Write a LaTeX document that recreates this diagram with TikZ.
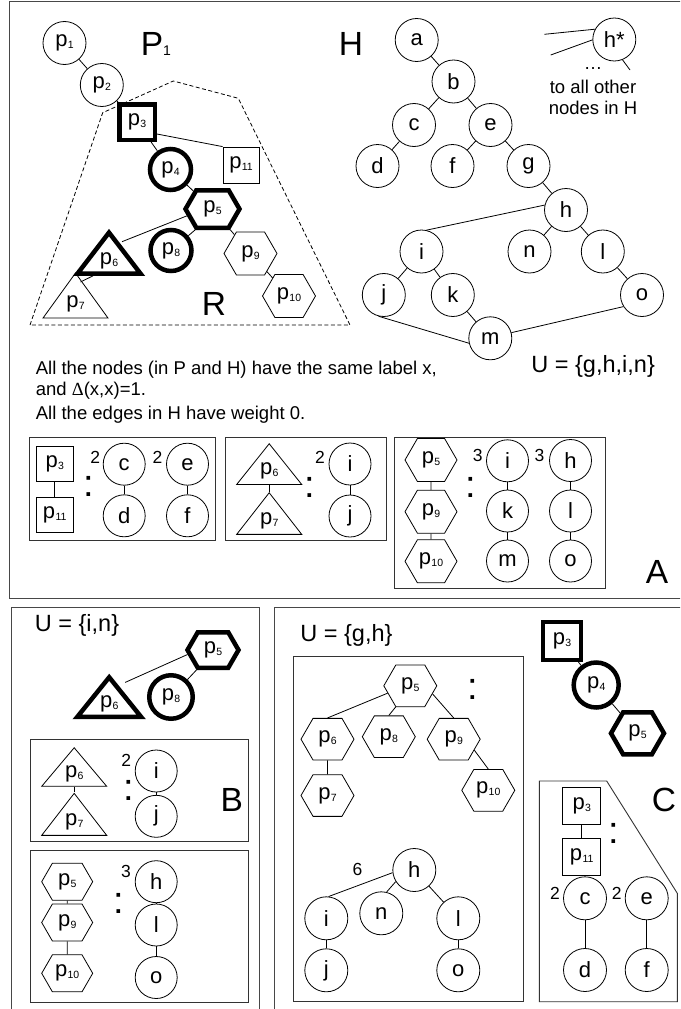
\documentclass[tikz,border=0pt]{standalone}
\usepackage{fontspec}
\setmainfont{Liberation Sans}
\newfontfamily\greekserif{Liberation Serif}
\usetikzlibrary{shapes.geometric,shapes.symbols}

\newcommand\fs[1]{\fontsize{#1}{#1}\selectfont}
% node label p_k
\newcommand\pn[1]{{\fs{22}p\kern0.3pt\raisebox{-2pt}{\fs{10.5}#1}}}

\begin{document}
\begin{tikzpicture}[x=1pt,y=-1pt,line width=0.8pt,
  every node/.style={inner sep=0pt},
  cn/.style={circle, draw, minimum size=43pt, font=\fs{22}},
  cnk/.style={circle, draw, line width=4.5pt, minimum size=41pt},
  sq/.style={rectangle, draw, minimum width=37pt, minimum height=36pt},
  sqk/.style={rectangle, draw, line width=4.5pt, minimum size=35.5pt},
  hx/.style={signal, signal to=east and west, signal pointer angle=120, draw,
             minimum width=53pt, minimum height=43pt},
  hxk/.style={hx, line width=4.5pt, minimum width=54pt, minimum height=37.5pt},
  tri/.style={isosceles triangle, isosceles triangle stretches, shape border rotate=90,
              draw, minimum width=65pt, minimum height=41pt, anchor=apex},
  trik/.style={tri, line width=4.5pt, minimum width=63pt},
  colon/.style={font=\fs{38}},
  num/.style={font=\fs{17.5}},
  big/.style={font=\fs{33.5}, anchor=base},
  txt/.style={font=\fs{18.5}, anchor=base west},
  uset/.style={font=\fs{23.5}, anchor=base west},
  frame/.style={draw=black!72, line width=1pt},
  box/.style={draw=black!80, line width=0.9pt},
  region/.style={dash pattern=on 4pt off 2.5pt, line width=0.8pt}
]
\clip (0,0) rectangle (680,1009);

% ---------- frames of the three parts ----------
\draw[frame] (9.3,1.7) rectangle (700,598.3);
\draw[frame] (11,607.3) rectangle (259.3,1030);
\draw[frame] (274,607.3) rectangle (700,1030);

% ---------- part A : pattern P1 ----------
\draw[region] (30,325) -- (102.7,112.7) -- (173.3,81) -- (238.3,98.3) -- (350,325) -- cycle;

\node[cn] (p1) at (64.5,43) {\pn{1}};
\node[cn] (p2) at (101.8,85) {\pn{2}};
\node[sqk] (p3) at (137,122) {\pn{3}};
\node[cnk] (p4) at (170.5,169.5) {\pn{4}};
\node[sq, minimum width=36pt] (p11) at (241,165) {\pn{11}};
\node[hxk] (p5) at (212.5,209) {\pn{5}};
\node[trik] (p6) at (109,226.7) {\pn{6}};
\node[cnk] (p8) at (171,250.5) {\pn{8}};
\node[hx] (p9) at (250.5,253.5) {\pn{9}};
\node[hx] (p10) at (289,296) {\pn{10}};
\node[tri, minimum height=45pt] (p7) at (75.5,272) {\pn{7}};

\draw (p1) -- (p2);
\draw (p2) -- (p3);
\draw (p3) -- (p4);
\draw (p3.-31) -- (p11.north west);
\draw (p4) -- (p5);
\draw (p5.195) -- ([xshift=13pt,yshift=-15pt]p6.apex);
\draw (p5.south west) -- (p8);
\draw (p5) -- (p9);
\draw (p9) -- (p10);
\draw ([xshift=-16pt]p6.lower side) -- ([xshift=5pt,yshift=-10pt]p7.apex);

\node[big] (lP) at (140.5,55.5) [anchor=base west] {P\fs{14}1};
\node[big] (lR) at (214,315) {R};

% ---------- part A : graph H ----------
\node[big] (lH) at (351,55) {H};
\node[cn] (a) at (416.7,40) {a};
\node[cn] (b) at (453.5,81.5) {b};
\node[cn] (c) at (414,125) {c};
\node[cn] (e) at (490.5,125) {e};
\node[cn] (d) at (377.5,166) {d};
\node[cn] (f) at (452.5,166) {f};
\node[cn] (g) at (528.5,166) {g};
\node[cn] (h) at (566,210) {h};
\node[cn] (i) at (421.5,251.5) {i};
\node[cn] (n) at (529.5,251.5) {n};
\node[cn] (l) at (602.8,251.5) {l};
\node[cn] (j) at (383.8,295) {j};
\node[cn] (k) at (452.8,295) {k};
\node[cn] (o) at (642,295) {o};
\node[cn] (m) at (490.3,338.3) {m};

\draw (a) -- (b);
\draw (b) -- (c);
\draw (b) -- (e);
\draw (c) -- (d);
\draw (e) -- (f);
\draw (e) -- (g);
\draw (g) -- (h);
\draw (h.167) -- (i.77);
\draw (h) -- (n);
\draw (h) -- (l);
\draw (i) -- (j);
\draw (i) -- (k);
\draw (k) -- (m);
\draw (l) -- (o);
\draw (j.256) -- (m.193);
\draw (m.15) -- (o.212);

% universal node h*
\node[cn] (hstar) at (614.3,39.5) {h*};
\coordinate (hs1) at (544.3,34.3);
\coordinate (hs2) at (550.7,55);
\coordinate (hs3) at (630,70);
\draw (hstar.152) -- (hs1);
\draw (hstar.181) -- (hs2);
\draw (hstar.292) -- (hs3);
\node[font=\fs{18.5}, anchor=base] (dots) at (593,69) {\dots};
\node[font=\fs{18.5}, anchor=base] (to1) at (593,93.3) {to all other};
\node[font=\fs{18.5}, anchor=base] (to2) at (593,114) {nodes in H};

% ---------- part A : remarks ----------
\node[txt] (t1) at (35.5,374) {All the nodes (in P and H) have the same label x,};
\node[txt] (t2) at (35.5,395.7) {and {\greekserif Δ}(x,x)=1.};
\node[txt] (t3) at (35.5,419) {All the edges in H have weight 0.};
\node[uset] (uA) at (531,372.7) {U = \{g,h,i,n\}};

% ---------- part A : matchings ----------
\draw[box] (29.3,437.3) rectangle (215.7,540);
\node[sq, minimum height=35pt] (a1p3) at (54.7,463.5) {\pn{3}};
\node[sq, minimum height=35pt] (a1p11) at (54.7,515) {\pn{11}};
\draw (a1p3) -- (a1p11);
\node[colon] (a1col) at (88.3,486.7) {:};
\node[num] (a1n1) at (95.3,457.5) {2};
\node[cn, minimum size=42pt] (a1c) at (124.2,464.2) {c};
\node[cn, minimum size=42pt] (a1d) at (124.2,515.8) {d};
\node[num] (a1n2) at (157.5,457.5) {2};
\node[cn, minimum size=42pt] (a1e) at (187.5,464.2) {e};
\node[cn, minimum size=42pt] (a1f) at (187.5,515.8) {f};
\draw (a1c) -- (a1d);
\draw (a1e) -- (a1f);

\draw[box] (225,437.3) rectangle (386,540);
\node[tri, minimum height=40.7pt] (a2p6) at (269.2,442.7) {\pn{6}};
\node[tri, minimum height=41.6pt] (a2p7) at (269.2,491.7) {\pn{7}};
\draw (a2p6.lower side) -- (a2p7.apex);
\node[colon] (a2col) at (309.3,487.3) {:};
\node[num] (a2n) at (320,457.5) {2};
\node[cn, minimum size=42pt] (a2i) at (350,464) {i};
\node[cn, minimum size=42pt] (a2j) at (350,516) {j};
\draw (a2i) -- (a2j);

\draw[box] (394.3,437.7) rectangle (605,588.3);
\node[hx, minimum width=52pt] (a3p5) at (431,460) {\pn{5}};
\node[hx, minimum width=52pt] (a3p9) at (431,511.7) {\pn{9}};
\node[hx, minimum width=52pt] (a3p10) at (431,561.3) {\pn{10}};
\draw (a3p5) -- (a3p9);
\draw (a3p9) -- (a3p10);
\node[colon] (a3col) at (471,487.5) {:};
\node[num] (a3n1) at (477.7,455) {3};
\node[cn, minimum size=42pt] (a3i) at (507.5,460.8) {i};
\node[cn, minimum size=42pt] (a3k) at (507.5,511) {k};
\node[cn, minimum size=42pt] (a3m) at (507.5,561) {m};
\node[num] (a3n2) at (539.5,455) {3};
\node[cn, minimum size=42pt] (a3h) at (570.5,460.5) {h};
\node[cn, minimum size=42pt] (a3l) at (570.5,511) {l};
\node[cn, minimum size=42pt] (a3o) at (570.5,561) {o};
\draw (a3i) -- (a3k);
\draw (a3k) -- (a3m);
\draw (a3h) -- (a3l);
\draw (a3l) -- (a3o);

\node[big] (lA) at (657,583.3) {A};

% ---------- part B ----------
\node[uset] (uB) at (34.5,631.7) {U = \{i,n\}};
\node[hxk, minimum width=51pt, minimum height=35.5pt] (bp5) at (213,650) {\pn{5}};
\node[trik, minimum width=64pt, minimum height=39.7pt] (bp6) at (109.2,671.4) {\pn{6}};
\node[cnk, minimum size=43.5pt] (bp8) at (171,697) {\pn{8}};
\draw (bp5.190) -- ([xshift=16pt,yshift=-11pt]bp6.apex);
\draw (bp5.south west) -- (bp8);

\draw[box] (30,739) rectangle (248.3,841);
\node[tri, minimum height=38.3pt] (b1p6) at (74.2,746.7) {\pn{6}};
\node[tri, minimum height=42pt] (b1p7) at (74.2,792.3) {\pn{7}};
\draw (b1p6.lower side) -- (b1p7.apex);
\node[colon] (b1col) at (128.3,790.3) {:};
\node[num] (b1n) at (126.2,760) {2};
\node[cn, minimum size=42pt] (b1i) at (156.2,771) {i};
\node[cn, minimum size=42pt] (b1j) at (156.2,816.3) {j};
\draw (b1i) -- (b1j);
\node[big] (lB) at (231.7,811) {B};

\draw[box] (30,850) rectangle (248.3,1002);
\node[hx, minimum width=51pt, minimum height=37pt] (b2p5) at (67.2,881.7) {\pn{5}};
\node[hx, minimum width=51pt, minimum height=37pt] (b2p9) at (67.2,922.5) {\pn{9}};
\node[hx, minimum width=51pt, minimum height=37pt] (b2p10) at (67.2,973.3) {\pn{10}};
\draw (b2p5) -- (b2p9);
\draw (b2p9) -- (b2p10);
\node[colon] (b2col) at (118.3,903.3) {:};
\node[num] (b2n) at (126,871.7) {3};
\node[cn, minimum size=42pt] (b2h) at (156.2,881.7) {h};
\node[cn, minimum size=42pt] (b2l) at (156.2,925) {l};
\node[cn, minimum size=42pt] (b2o) at (156.2,977.5) {o};
\draw (b2h) -- (b2l);
\draw (b2l) -- (b2o);

% ---------- part C ----------
\node[uset] (uC) at (300,641.7) {U = \{g,h\}};
\draw[box] (293.3,656) rectangle (523.3,1001.7);
\node[hx, minimum height=41.7pt] (c1p5) at (410.3,685.8) {\pn{5}};
\node[hx, minimum height=41.7pt] (c1p6) at (327.5,739.2) {\pn{6}};
\node[hx, minimum height=41.7pt] (c1p8) at (388.8,736.7) {\pn{8}};
\node[hx, minimum height=41.7pt] (c1p9) at (453.7,739.2) {\pn{9}};
\node[hx, minimum height=41.7pt] (c1p7) at (327.5,795.5) {\pn{7}};
\node[hx, minimum height=41.7pt] (c1p10) at (488.3,790.3) {\pn{10}};
\draw (c1p5.198) -- (c1p6.north);
\draw (c1p5.south west) -- (c1p8.north);
\draw (c1p5.-20) -- (c1p9.north);
\draw (c1p6) -- (c1p7);
\draw (c1p9.-28) -- (c1p10.north);
\node[colon] (c1col) at (472.3,689.5) {:};

\node[num] (c1n) at (357.5,869) {6};
\node[cn] (c1h) at (414.3,870) {h};
\node[cn] (c1i) at (326.3,918.3) {i};
\node[cn] (c1n2) at (381.3,913.3) {n};
\node[cn] (c1l) at (458.3,918.3) {l};
\node[cn] (c1j) at (326.3,970.3) {j};
\node[cn] (c1o) at (458.3,970.3) {o};
\draw (c1h.187) -- (c1i.84);
\draw (c1h.212) -- (c1n2.76);
\draw (c1h) -- (c1l);
\draw (c1i) -- (c1j);
\draw (c1l) -- (c1o);

\node[sqk, minimum size=38pt] (cp3) at (562,640.8) {\pn{3}};
\node[cnk, minimum size=45pt] (cp4) at (596.2,685) {\pn{4}};
\node[hxk, minimum width=53pt, minimum height=42pt] (cp5) at (637.5,733.3) {\pn{5}};
\draw (cp3) -- (cp4);
\draw (cp4) -- (cp5);

\draw[box] (539.3,781) -- (606.7,781) -- (677.3,893.3) -- (677.3,1001.7) -- (539.3,1001.7) -- cycle;
\node[sq, minimum width=38pt, minimum height=37pt] (c2p3) at (581.7,806) {\pn{3}};
\node[sq, minimum width=38pt, minimum height=37pt] (c2p11) at (581.7,856.7) {\pn{11}};
\draw (c2p3) -- (c2p11);
\node[colon] (c2col) at (613.3,833.3) {:};
\node[big] (lC) at (664,811.7) {C};
\node[num] (c2n1) at (555,893) {2};
\node[cn] (c2c) at (585,898.3) {c};
\node[cn] (c2d) at (585,970) {d};
\node[num] (c2n2) at (616.7,893) {2};
\node[cn] (c2e) at (646.7,898.3) {e};
\node[cn] (c2f) at (646.7,970) {f};
\draw (c2c) -- (c2d);
\draw (c2e) -- (c2f);
\end{tikzpicture}
\end{document}
